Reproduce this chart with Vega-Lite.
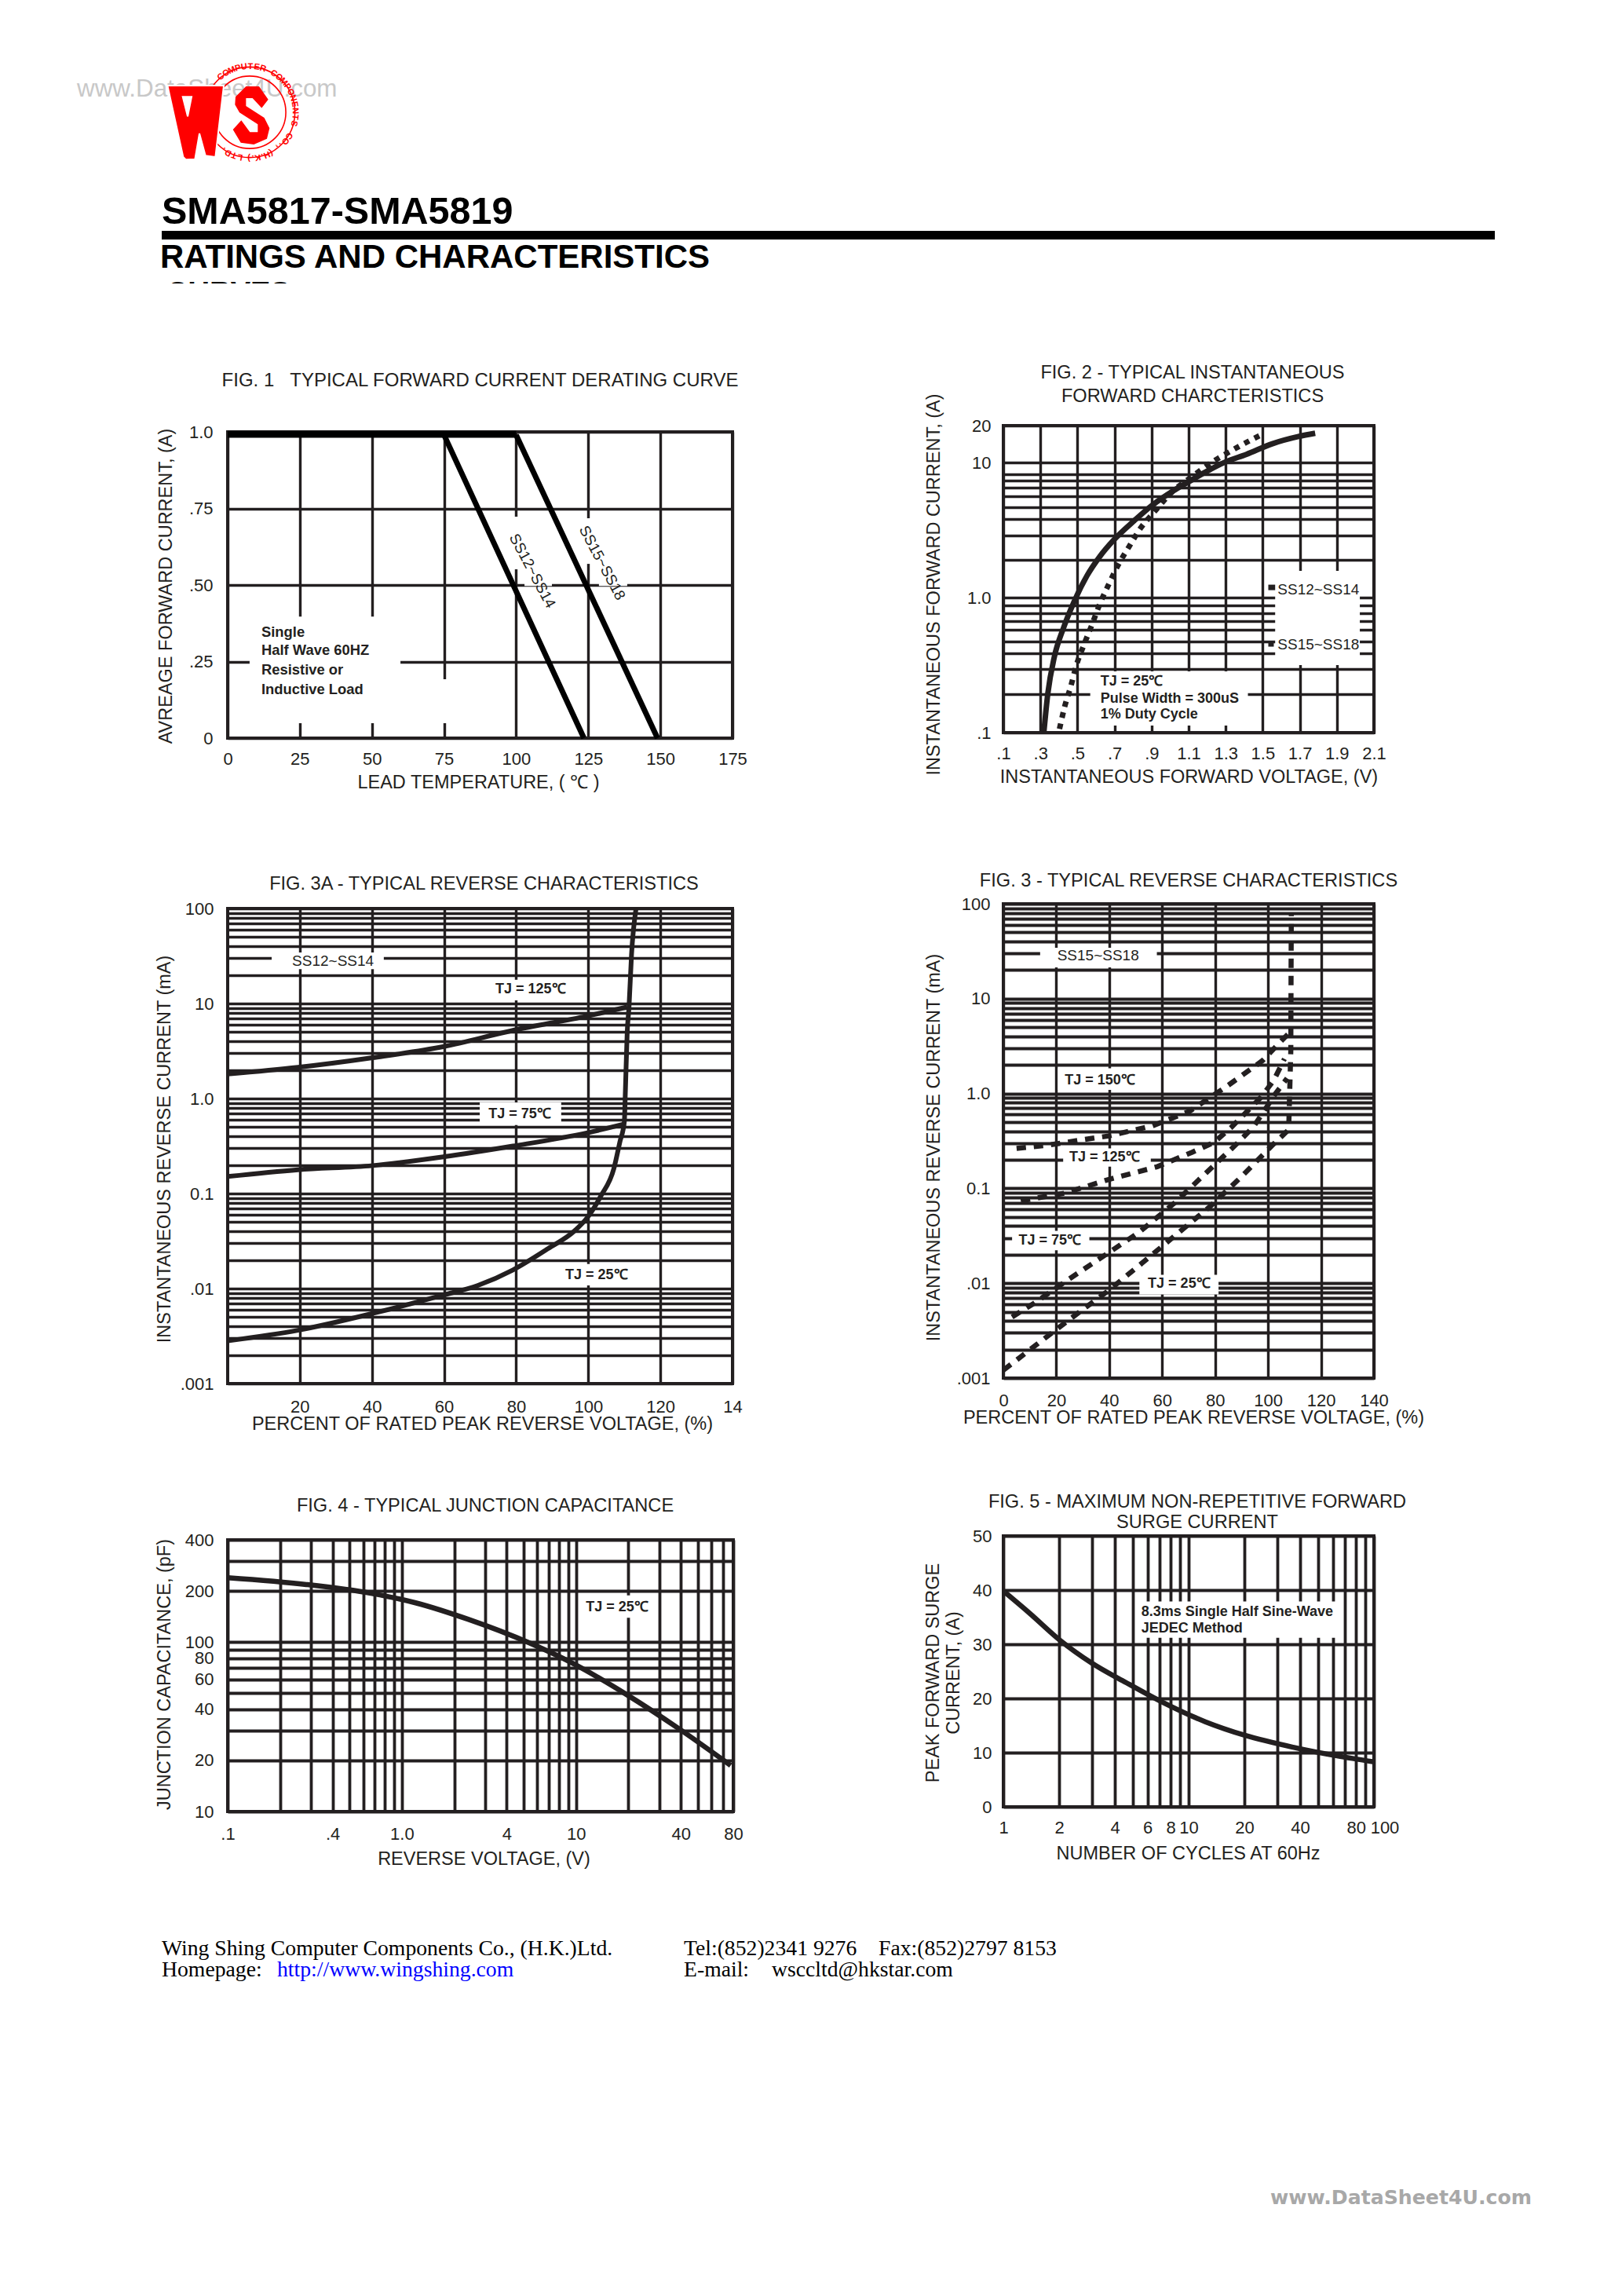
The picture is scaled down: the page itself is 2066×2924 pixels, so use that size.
{"$schema":"https://vega.github.io/schema/vega-lite/v6.json","padding":0,"background":"white","bounds":"flush","spacing":0,
"config":{"view":{"stroke":"#231f20","strokeWidth":4},"font":"Liberation Sans","axis":{"domain":false,"ticks":false,"grid":true,"gridColor":"#231f20","gridOpacity":1,"gridWidth":3.4,"labelFont":"Liberation Sans","labelFontSize":22,"labelColor":"#231f20","labelOverlap":false,"labelBound":false,"labelFlush":false,"titleFont":"Liberation Sans","titleFontSize":23.5,"titleFontWeight":"normal","titleColor":"#231f20","titleBaseline":"middle","titleLineHeight":26},"title":{"font":"Liberation Sans","fontSize":23.6,"fontWeight":"normal","color":"#231f20","anchor":"middle"}},
"vconcat":[
{"width":2066,"height":542,"view":{"stroke":null},
"encoding":{"x":{"field":"x","type":"quantitative","scale":{"domain":[0,2066],"nice":false},"axis":null},"y":{"field":"y","type":"quantitative","scale":{"domain":[542,0],"nice":false},"axis":null}},
"layer":[
{"data":{"values":[{"x":98,"y":123,"t":"www.DataSheet4U.com"}]},"mark":{"type":"text","font":"Liberation Sans","fontSize":31.4,"align":"left","baseline":"alphabetic","fill":"#c8c8c8"},"encoding":{"text":{"field":"t"}}},
{"data":{"values":[{"x":318,"y":143}]},"mark":{"type":"point","shape":"circle","size":13273,"filled":false,"stroke":"#ff0000","strokeWidth":1.6,"opacity":1}},
{"data":{"values":[{"x":318,"y":143}]},"mark":{"type":"point","shape":"circle","size":8495,"filled":false,"stroke":"#ff0000","strokeWidth":1.6,"opacity":1}},
{"data":{"values":[{"x":281.5,"y":97.9,"a":-39,"t":"C"},{"x":288.1,"y":93.3,"a":-31,"t":"O"},{"x":295.3,"y":89.6,"a":-23,"t":"M"},{"x":303,"y":87,"a":-15,"t":"P"},{"x":310.9,"y":85.4,"a":-7,"t":"U"},{"x":319,"y":85,"a":1,"t":"T"},{"x":327.1,"y":85.7,"a":9,"t":"E"},{"x":335,"y":87.5,"a":17,"t":"R"},{"x":348.7,"y":93.8,"a":32,"t":"C"},{"x":355.3,"y":98.6,"a":40,"t":"O"},{"x":361.1,"y":104.2,"a":48,"t":"M"},{"x":366.1,"y":110.6,"a":56,"t":"P"},{"x":370.1,"y":117.6,"a":64,"t":"O"},{"x":373.2,"y":125.1,"a":72,"t":"N"},{"x":375.1,"y":132.9,"a":80,"t":"E"},{"x":376,"y":141,"a":88,"t":"N"},{"x":375.7,"y":149.1,"a":96,"t":"T"},{"x":374.3,"y":157,"a":104,"t":"S"},{"x":367.7,"y":172.9,"a":121,"t":"C"},{"x":363.1,"y":179.5,"a":129,"t":"O"},{"x":358.3,"y":184.7,"a":136,"t":"."},{"x":354.5,"y":188.1,"a":141,"t":","},{"x":345.2,"y":194.2,"a":152,"t":"("},{"x":339.8,"y":196.8,"a":158,"t":"H"},{"x":334,"y":198.7,"a":164,"t":"."},{"x":328.1,"y":200.1,"a":170,"t":"K"},{"x":322.1,"y":200.9,"a":176,"t":"."},{"x":317,"y":201,"a":181,"t":")"},{"x":305.9,"y":199.7,"a":192,"t":"L"},{"x":298.2,"y":197.5,"a":200,"t":"T"},{"x":290.8,"y":194.2,"a":208,"t":"D"},{"x":284.7,"y":190.5,"a":215,"t":"."}]},"mark":{"type":"text","font":"Liberation Sans","fontWeight":"bold","fontSize":11,"align":"center","baseline":"middle","fill":"#ff0000"},"encoding":{"text":{"field":"t"},"angle":{"field":"a","type":"quantitative","scale":null}}},
{"data":{"values":[{"x":250.7,"y":156}]},"mark":{"type":"point","shape":"M-.772,-.972 L.71,-.972 L.49,.91 L.228,.876 L.069,.29 L-.048,.966 L-.29,.979 L-.359,.91 Z M-.372,-.676 L-.241,-.159 L-.138,-.676 Z","size":9344,"filled":true,"fill":"#ff0000","stroke":"white","strokeWidth":2,"opacity":1}},
{"data":{"values":[{"x":320,"y":147}]},"mark":{"type":"point","shape":"M-.541,-.64 L-.18,-1 L.27,-1 L.586,-.55 L.36,-.26 L.045,-.595 L-.18,-.595 L-.18,-.324 L.45,.081 L.63,.441 L.54,.802 L.09,1 L-.36,.937 L-.63,.486 L-.342,.171 L-.045,.577 L.225,.577 L.225,.306 L-.405,-.1 L-.559,-.369 Z","size":5476,"filled":true,"fill":"#ff0000","opacity":1}},
{"data":{"values":[{"x":206,"y":285,"t":"SMA5817-SMA5819"}]},"mark":{"type":"text","font":"Liberation Sans","fontWeight":"bold","fontSize":48.5,"align":"left","baseline":"alphabetic","fill":"#000000"},"encoding":{"text":{"field":"t"}}},
{"data":{"values":[{"x":206,"x2":1904,"y":294,"y2":305}]},"mark":{"type":"rect","fill":"#000000"},"encoding":{"x2":{"field":"x2"},"y2":{"field":"y2"}}},
{"data":{"values":[{"x":204,"y":341,"t":"RATINGS AND CHARACTERISTICS"}]},"mark":{"type":"text","font":"Liberation Sans","fontWeight":"bold","fontSize":42,"align":"left","baseline":"alphabetic","fill":"#000000"},"encoding":{"text":{"field":"t"}}},
{"data":{"values":[{"x":212,"y":386,"t":"CURVES"}]},"mark":{"type":"text","font":"Liberation Sans","fontWeight":"bold","fontSize":38,"align":"left","baseline":"alphabetic","fill":"#000000"},"encoding":{"text":{"field":"t"}}},
{"data":{"values":[{"x":200,"x2":420,"y":361,"y2":400}]},"mark":{"type":"rect","fill":"white"},"encoding":{"x2":{"field":"x2"},"y2":{"field":"y2"}}}
]},
{"hconcat":[
{"width":290,"height":10,"view":{"stroke":null},"data":{"values":[{}]},"mark":{"type":"point","opacity":0}},
{"vconcat":[
{"width":10,"height":8,"view":{"stroke":null},"data":{"values":[{}]},"mark":{"type":"point","opacity":0}},
{"width":643,"height":390,
"title":{"text":"FIG. 1\u00a0\u00a0\u00a0TYPICAL FORWARD CURRENT DERATING CURVE","offset":38,"fontSize":24},
"encoding":{"x":{"field":"x","type":"quantitative","scale":{"domain":[0,175],"nice":false},"axis":{"values":[0,25,50,75,100,125,150,175],"labelPadding":16,"title":"LEAD TEMPERATURE, ( ℃ )","titleX":319,"titleY":56}},"y":{"field":"y","type":"quantitative","scale":{"domain":[0,1],"nice":false},"axis":{"values":[0,0.25,0.5,0.75,1],"labelExpr":"{'0':'0','0.25':'.25','0.5':'.50','0.75':'.75','1':'1.0'}[datum.value]","labelPadding":19,"title":"AVREAGE FORWARD CURRENT, (A)","titleX":-79,"titleY":196}}},
"layer":[
{"data":{"values":[{"x":7.6,"x2":59.9,"y":0.397,"y2":0.049},{"x":59.9,"x2":76.8,"y":0.192,"y2":0.049},{"x":98,"x2":101.8,"y":0.723,"y2":0.551},{"x":102.9,"x2":112.4,"y":0.528,"y2":0.497},{"x":123,"x2":126.8,"y":0.718,"y2":0.569},{"x":128.7,"x2":138.5,"y":0.528,"y2":0.497}]},"mark":{"type":"rect","fill":"white"},"encoding":{"x2":{"field":"x2"},"y2":{"field":"y2"}}},
{"data":{"values":[{"x":0,"y":0.992,"s":"rating"},{"x":100,"y":0.992,"s":"rating"}]},"mark":{"type":"line","stroke":"#000000","strokeWidth":9},"encoding":{"detail":{"field":"s"}}},
{"data":{"values":[{"x":75,"y":0.99,"s":"SS12~SS14"},{"x":123.5,"y":0,"s":"SS12~SS14"},{"x":100,"y":0.99,"s":"SS15~SS18"},{"x":149,"y":0,"s":"SS15~SS18"}]},"mark":{"type":"line","stroke":"#000000","strokeWidth":7},"encoding":{"detail":{"field":"s"}}},
{"data":{"values":[{"x":105.6,"y":0.546,"t":"SS12~SS14"},{"x":129.8,"y":0.572,"t":"SS15~SS18"}]},"mark":{"type":"text","font":"Liberation Sans","fontSize":19,"angle":62,"align":"center","baseline":"middle","fill":"#231f20"},"encoding":{"text":{"field":"t"}}},
{"data":{"values":[{"x":11.7,"y":0.346,"t":"Single"},{"x":11.7,"y":0.287,"t":"Half Wave 60HZ"},{"x":11.7,"y":0.223,"t":"Resistive or"},{"x":11.7,"y":0.159,"t":"Inductive Load"}]},"mark":{"type":"text","fontSize":18.4,"fontWeight":"bold","align":"left","baseline":"middle","fill":"#231f20"},"encoding":{"text":{"field":"t"}}}
]},
{"width":10,"height":217,"view":{"stroke":null},"data":{"values":[{}]},"mark":{"type":"point","opacity":0}},
{"width":643,"height":605,
"title":{"text":"FIG. 3A - TYPICAL REVERSE CHARACTERISTICS","offset":8,"dx":5},
"encoding":{"x":{"field":"x","type":"quantitative","scale":{"domain":[0,140],"nice":false},"axis":{"values":[20,40,60,80,100,120,140],"labelExpr":"{'20':'20','40':'40','60':'60','80':'80','100':'100','120':'120','140':'14'}[datum.value]","labelPadding":19,"title":"PERCENT OF RATED PEAK REVERSE VOLTAGE, (%)","titleX":324,"titleY":51}},"y":{"field":"y","type":"quantitative","scale":{"type":"log","domain":[0.001,100],"nice":false},"axis":{"values":[0.001,0.002,0.003,0.004,0.005,0.006,0.007,0.008,0.009,0.01,0.02,0.03,0.04,0.05,0.06,0.07,0.08,0.09,0.1,0.2,0.3,0.4,0.5,0.6,0.7,0.8,0.9,1,2,3,4,5,6,7,8,9,10,20,30,40,50,60,70,80,90,100],"labelExpr":"{'100':'100','10':'10','1':'1.0','0.1':'0.1','0.01':'.01','0.001':'.001'}[datum.value]||''","labelPadding":18,"title":"INSTANTANEOUS REVERSE CURRENT (mA)","titleX":-81,"titleY":306}}},
"layer":[
{"data":{"values":[{"x":12.2,"x2":43.3,"y":34.4,"y2":23},{"x":70.6,"x2":96.2,"y":17.8,"y2":10.8},{"x":69.9,"x2":92.5,"y":0.91,"y2":0.526},{"x":92,"x2":111.5,"y":0.0181,"y2":0.0108}]},"mark":{"type":"rect","fill":"white"},"encoding":{"x2":{"field":"x2"},"y2":{"field":"y2"}}},
{"data":{"values":[{"x":0,"y":1.81,"s":"TJ = 125℃"},{"x":19.5,"y":2.13,"s":"TJ = 125℃"},{"x":40.2,"y":2.69,"s":"TJ = 125℃"},{"x":59.7,"y":3.51,"s":"TJ = 125℃"},{"x":79.1,"y":5.21,"s":"TJ = 125℃"},{"x":99.8,"y":7.4,"s":"TJ = 125℃"},{"x":110.8,"y":9.19,"s":"TJ = 125℃"},{"x":0,"y":0.151,"s":"TJ = 75℃"},{"x":19.5,"y":0.178,"s":"TJ = 75℃"},{"x":40.2,"y":0.197,"s":"TJ = 75℃"},{"x":59.7,"y":0.243,"s":"TJ = 75℃"},{"x":79.1,"y":0.316,"s":"TJ = 75℃"},{"x":99.8,"y":0.436,"s":"TJ = 75℃"},{"x":110.3,"y":0.542,"s":"TJ = 75℃"},{"x":0,"y":0.00282,"s":"TJ = 25℃"},{"x":19.5,"y":0.00364,"s":"TJ = 25℃"},{"x":40.2,"y":0.00547,"s":"TJ = 25℃"},{"x":59.7,"y":0.00851,"s":"TJ = 25℃"},{"x":69.4,"y":0.0108,"s":"TJ = 25℃"},{"x":79.1,"y":0.0157,"s":"TJ = 25℃"},{"x":88.9,"y":0.0264,"s":"TJ = 25℃"},{"x":96.2,"y":0.0405,"s":"TJ = 25℃"},{"x":99.8,"y":0.0562,"s":"TJ = 25℃"},{"x":103.5,"y":0.0944,"s":"TJ = 25℃"},{"x":107.1,"y":0.183,"s":"TJ = 25℃"},{"x":108.8,"y":0.354,"s":"TJ = 25℃"},{"x":110,"y":0.568,"s":"TJ = 25℃"},{"x":110.3,"y":1.21,"s":"TJ = 25℃"},{"x":110.8,"y":4.98,"s":"TJ = 25℃"},{"x":111.3,"y":9.19,"s":"TJ = 25℃"},{"x":112,"y":32.8,"s":"TJ = 25℃"},{"x":113.2,"y":97,"s":"TJ = 25℃"}]},"mark":{"type":"line","stroke":"#231f20","strokeWidth":6,"interpolate":"monotone"},"encoding":{"detail":{"field":"s"}}},
{"data":{"values":[{"x":29.2,"y":27.7,"t":"SS12~SS14"}]},"mark":{"type":"text","font":"Liberation Sans","fontSize":19,"align":"center","baseline":"middle","fill":"#231f20"},"encoding":{"text":{"field":"t"}}},
{"data":{"values":[{"x":84,"y":14,"t":"TJ = 125℃"},{"x":81,"y":0.686,"t":"TJ = 75℃"},{"x":102.3,"y":0.0139,"t":"TJ = 25℃"}]},"mark":{"type":"text","fontSize":18,"fontWeight":"bold","align":"center","baseline":"middle","fill":"#231f20"},"encoding":{"text":{"field":"t"}}}
]},
{"width":10,"height":199,"view":{"stroke":null},"data":{"values":[{}]},"mark":{"type":"point","opacity":0}},
{"width":644,"height":346,
"title":{"text":"FIG. 4 - TYPICAL JUNCTION CAPACITANCE","offset":20,"dx":6},
"encoding":{"x":{"field":"x","type":"quantitative","scale":{"type":"log","domain":[0.1,80],"nice":false},"axis":{"values":[0.1,0.2,0.3,0.4,0.5,0.6,0.7,0.8,0.9,1,2,3,4,5,6,7,8,9,10,20,30,40,50,60,70,80],"labelExpr":"{'0.1':'.1','0.4':'.4','1':'1.0','4':'4','10':'10','40':'40','80':'80'}[datum.value]||''","labelPadding":18,"gridWidth":3.8,"title":"REVERSE VOLTAGE, (V)","titleX":326,"titleY":60}},"y":{"field":"y","type":"quantitative","scale":{"type":"log","domain":[10,400],"nice":false},"axis":{"values":[10,20,30,40,50,60,70,80,90,100,200,300,400],"labelExpr":"{'10':'10','20':'20','40':'40','60':'60','80':'80','100':'100','200':'200','400':'400'}[datum.value]||''","labelPadding":18,"gridWidth":3.8,"title":"JUNCTION CAPACITANCE, (pF)","titleX":-81,"titleY":171}}},
"layer":[
{"data":{"values":[{"x":11.2,"x2":27.3,"y":188,"y2":139}]},"mark":{"type":"rect","fill":"white"},"encoding":{"x2":{"field":"x2"},"y2":{"field":"y2"}}},
{"data":{"values":[{"x":0.1,"y":239,"s":"TJ = 25℃"},{"x":0.283,"y":218,"s":"TJ = 25℃"},{"x":0.675,"y":193,"s":"TJ = 25℃"},{"x":1.2,"y":170,"s":"TJ = 25℃"},{"x":2.4,"y":136,"s":"TJ = 25℃"},{"x":5.4,"y":98.6,"s":"TJ = 25℃"},{"x":9.6,"y":74.7,"s":"TJ = 25℃"},{"x":19.3,"y":49.3,"s":"TJ = 25℃"},{"x":38.6,"y":31,"s":"TJ = 25℃"},{"x":77.3,"y":18.7,"s":"TJ = 25℃"}]},"mark":{"type":"line","stroke":"#231f20","strokeWidth":6.5,"interpolate":"monotone"},"encoding":{"detail":{"field":"s"}}},
{"data":{"values":[{"x":17.2,"y":160,"t":"TJ = 25℃"}]},"mark":{"type":"text","fontSize":18,"fontWeight":"bold","align":"center","baseline":"middle","fill":"#231f20"},"encoding":{"text":{"field":"t"}}}
]}
],"spacing":0,"bounds":"flush"},
{"width":988,"height":10,"view":{"stroke":null},"data":{"values":[{}]},"mark":{"type":"point","opacity":0}},
{"vconcat":[
{"width":472,"height":391,
"title":{"text":["FIG. 2 - TYPICAL INSTANTANEOUS","FORWARD CHARCTERISTICS"],"offset":-16,"dx":5,"lineHeight":30},
"encoding":{"x":{"field":"x","type":"quantitative","scale":{"domain":[0.1,2.1],"nice":false},"axis":{"values":[0.1,0.3,0.5,0.7,0.9,1.1,1.3,1.5,1.7,1.9,2.1],"labelExpr":"{'0.1':'.1','0.3':'.3','0.5':'.5','0.7':'.7','0.9':'.9','1.1':'1.1','1.3':'1.3','1.5':'1.5','1.7':'1.7','1.9':'1.9','2.1':'2.1'}[datum.value]","labelPadding":16,"title":"INSTANTANEOUS FORWARD VOLTAGE, (V)","titleX":236,"titleY":56}},"y":{"field":"y","type":"quantitative","scale":{"type":"log","domain":[0.1,18.8],"nice":false},"axis":{"values":[0.1,0.194,0.295,0.388,0.475,0.58,0.669,0.765,0.874,1,1.9,2.9,3.8,4.7,5.6,6.5,7.4,8.2,10,18.8],"labelExpr":"{'18.8':'20','10':'10','1':'1.0','0.1':'.1'}[datum.value]||''","labelPadding":16,"title":"INSTANTANEOUS FORWARD CURRENT, (A)","titleX":-89,"titleY":202}}},
"layer":[
{"data":{"values":[{"x":0.569,"x2":1.42,"y":0.284,"y2":0.1128},{"x":1.567,"x2":2.024,"y":1.577,"y2":0.316}]},"mark":{"type":"rect","fill":"white"},"encoding":{"x2":{"field":"x2"},"y2":{"field":"y2"}}},
{"data":{"values":[{"x":0.319,"y":0.1018,"s":"SS12~SS14"},{"x":0.34,"y":0.1946,"s":"SS12~SS14"},{"x":0.375,"y":0.363,"s":"SS12~SS14"},{"x":0.424,"y":0.593,"s":"SS12~SS14"},{"x":0.481,"y":0.927,"s":"SS12~SS14"},{"x":0.551,"y":1.449,"s":"SS12~SS14"},{"x":0.621,"y":2.02,"s":"SS12~SS14"},{"x":0.699,"y":2.7,"s":"SS12~SS14"},{"x":0.805,"y":3.7,"s":"SS12~SS14"},{"x":0.903,"y":4.83,"s":"SS12~SS14"},{"x":1.016,"y":6.17,"s":"SS12~SS14"},{"x":1.101,"y":7.22,"s":"SS12~SS14"},{"x":1.199,"y":8.63,"s":"SS12~SS14"},{"x":1.298,"y":10.1,"s":"SS12~SS14"},{"x":1.411,"y":11.5,"s":"SS12~SS14"},{"x":1.552,"y":13.8,"s":"SS12~SS14"},{"x":1.693,"y":15.6,"s":"SS12~SS14"},{"x":1.783,"y":16.5,"s":"SS12~SS14"},{"x":1.53,"y":1.19,"s":"key SS12~SS14"},{"x":1.567,"y":1.19,"s":"key SS12~SS14"}]},"mark":{"type":"line","stroke":"#231f20","strokeWidth":7,"interpolate":"monotone"},"encoding":{"detail":{"field":"s"}}},
{"data":{"values":[{"x":0.403,"y":0.1065,"s":"SS15~SS18"},{"x":0.431,"y":0.1556,"s":"SS15~SS18"},{"x":0.464,"y":0.22,"s":"SS15~SS18"},{"x":0.495,"y":0.318,"s":"SS15~SS18"},{"x":0.534,"y":0.444,"s":"SS15~SS18"},{"x":0.579,"y":0.634,"s":"SS15~SS18"},{"x":0.619,"y":0.887,"s":"SS15~SS18"},{"x":0.667,"y":1.239,"s":"SS15~SS18"},{"x":0.72,"y":1.747,"s":"SS15~SS18"},{"x":0.779,"y":2.39,"s":"SS15~SS18"},{"x":0.84,"y":3.26,"s":"SS15~SS18"},{"x":0.915,"y":4.32,"s":"SS15~SS18"},{"x":1.002,"y":5.91,"s":"SS15~SS18"},{"x":1.129,"y":8.07,"s":"SS15~SS18"},{"x":1.228,"y":10.1,"s":"SS15~SS18"},{"x":1.333,"y":12.3,"s":"SS15~SS18"},{"x":1.432,"y":14.6,"s":"SS15~SS18"},{"x":1.481,"y":15.8,"s":"SS15~SS18"},{"x":1.53,"y":0.454,"s":"key SS15~SS18"},{"x":1.567,"y":0.454,"s":"key SS15~SS18"}]},"mark":{"type":"line","stroke":"#231f20","strokeWidth":7,"strokeDash":[7,7.5],"interpolate":"monotone"},"encoding":{"detail":{"field":"s"}}},
{"data":{"values":[{"x":1.58,"y":1.143,"t":"SS12~SS14"},{"x":1.58,"y":0.448,"t":"SS15~SS18"}]},"mark":{"type":"text","font":"Liberation Sans","fontSize":19,"align":"left","baseline":"middle","fill":"#231f20"},"encoding":{"text":{"field":"t"}}},
{"data":{"values":[{"x":0.624,"y":0.239,"t":"TJ = 25℃"},{"x":0.624,"y":0.178,"t":"Pulse Width = 300uS"},{"x":0.624,"y":0.136,"t":"1% Duty Cycle"}]},"mark":{"type":"text","fontSize":18,"fontWeight":"bold","align":"left","baseline":"middle","fill":"#231f20"},"encoding":{"text":{"field":"t"}}}
]},
{"width":10,"height":218,"view":{"stroke":null},"data":{"values":[{}]},"mark":{"type":"point","opacity":0}},
{"width":472,"height":604,
"title":{"text":"FIG. 3 - TYPICAL REVERSE CHARACTERISTICS","offset":6},
"encoding":{"x":{"field":"x","type":"quantitative","scale":{"domain":[0,140],"nice":false},"axis":{"values":[0,20,40,60,80,100,120,140],"labelPadding":18,"title":"PERCENT OF RATED PEAK REVERSE VOLTAGE, (%)","titleX":242,"titleY":50}},"y":{"field":"y","type":"quantitative","scale":{"type":"log","domain":[0.001,100],"nice":false},"axis":{"values":[0.001,0.002,0.003,0.004,0.005,0.006,0.007,0.008,0.009,0.01,0.02,0.03,0.04,0.05,0.06,0.07,0.08,0.09,0.1,0.2,0.3,0.4,0.5,0.6,0.7,0.8,0.9,1,2,3,4,5,6,7,8,9,10,20,30,40,50,60,70,80,90,100],"labelExpr":"{'100':'100','10':'10','1':'1.0','0.1':'0.1','0.01':'.01','0.001':'.001'}[datum.value]||''","labelPadding":17,"gridWidth":4,"title":"INSTANTANEOUS REVERSE CURRENT (mA)","titleX":-89,"titleY":310}}},
"layer":[
{"data":{"values":[{"x":13.9,"x2":58,"y":34.4,"y2":21.4},{"x":20.6,"x2":51.4,"y":1.84,"y2":1.09},{"x":22.6,"x2":55.7,"y":0.264,"y2":0.169},{"x":3.3,"x2":32.5,"y":0.0356,"y2":0.0222},{"x":51.4,"x2":81.3,"y":0.01225,"y2":0.00762}]},"mark":{"type":"rect","fill":"white"},"encoding":{"x2":{"field":"x2"},"y2":{"field":"y2"}}},
{"data":{"values":[{"x":5,"y":0.264,"s":"TJ = 150℃"},{"x":16.6,"y":0.285,"s":"TJ = 150℃"},{"x":29.9,"y":0.325,"s":"TJ = 150℃"},{"x":39.8,"y":0.357,"s":"TJ = 150℃"},{"x":56.4,"y":0.457,"s":"TJ = 150℃"},{"x":70.3,"y":0.648,"s":"TJ = 150℃"},{"x":84.6,"y":1.2,"s":"TJ = 150℃"},{"x":97.9,"y":2.22,"s":"TJ = 150℃"},{"x":104.5,"y":3.46,"s":"TJ = 150℃"},{"x":108.5,"y":4.5,"s":"TJ = 150℃"},{"x":6.6,"y":0.0738,"s":"TJ = 125℃"},{"x":23.2,"y":0.0891,"s":"TJ = 125℃"},{"x":39.8,"y":0.124,"s":"TJ = 125℃"},{"x":58.1,"y":0.169,"s":"TJ = 125℃"},{"x":71.3,"y":0.24,"s":"TJ = 125℃"},{"x":79.6,"y":0.305,"s":"TJ = 125℃"},{"x":86.3,"y":0.445,"s":"TJ = 125℃"},{"x":97.2,"y":0.904,"s":"TJ = 125℃"},{"x":102.2,"y":1.38,"s":"TJ = 125℃"},{"x":106.2,"y":2.32,"s":"TJ = 125℃"},{"x":3.3,"y":0.00441,"s":"TJ = 75℃"},{"x":11.6,"y":0.00614,"s":"TJ = 75℃"},{"x":24.9,"y":0.0111,"s":"TJ = 75℃"},{"x":38.2,"y":0.0196,"s":"TJ = 75℃"},{"x":51.4,"y":0.0346,"s":"TJ = 75℃"},{"x":64.7,"y":0.0703,"s":"TJ = 75℃"},{"x":76.3,"y":0.143,"s":"TJ = 75℃"},{"x":87.9,"y":0.29,"s":"TJ = 75℃"},{"x":94.5,"y":0.445,"s":"TJ = 75℃"},{"x":102.8,"y":0.993,"s":"TJ = 75℃"},{"x":107.2,"y":1.45,"s":"TJ = 75℃"},{"x":0,"y":0.00121,"s":"TJ = 25℃"},{"x":13.3,"y":0.00234,"s":"TJ = 25℃"},{"x":26.5,"y":0.00446,"s":"TJ = 25℃"},{"x":39.8,"y":0.0084,"s":"TJ = 25℃"},{"x":52.4,"y":0.0163,"s":"TJ = 25℃"},{"x":64.7,"y":0.0315,"s":"TJ = 25℃"},{"x":78,"y":0.064,"s":"TJ = 25℃"},{"x":89.6,"y":0.13,"s":"TJ = 25℃"},{"x":101.2,"y":0.277,"s":"TJ = 25℃"},{"x":107.8,"y":0.416,"s":"TJ = 25℃"},{"x":108.6,"y":2.81,"s":"TJ = 25℃"},{"x":108.7,"y":18.6,"s":"TJ = 25℃"},{"x":108.8,"y":80.5,"s":"TJ = 25℃"}]},"mark":{"type":"line","stroke":"#231f20","strokeWidth":6.5,"strokeDash":[12,10]},"encoding":{"detail":{"field":"s"}}},
{"data":{"values":[{"x":35.8,"y":28.4,"t":"SS15~SS18"}]},"mark":{"type":"text","font":"Liberation Sans","fontSize":19,"align":"center","baseline":"middle","fill":"#231f20"},"encoding":{"text":{"field":"t"}}},
{"data":{"values":[{"x":36.5,"y":1.38,"t":"TJ = 150℃"},{"x":38.2,"y":0.213,"t":"TJ = 125℃"},{"x":17.6,"y":0.0279,"t":"TJ = 75℃"},{"x":66.4,"y":0.00984,"t":"TJ = 25℃"}]},"mark":{"type":"text","fontSize":18,"fontWeight":"bold","align":"center","baseline":"middle","fill":"#231f20"},"encoding":{"text":{"field":"t"}}}
]},
{"width":10,"height":201,"view":{"stroke":null},"data":{"values":[{}]},"mark":{"type":"point","opacity":0}},
{"width":472,"height":345,
"title":{"text":["FIG. 5 - MAXIMUM NON-REPETITIVE FORWARD","SURGE CURRENT"],"offset":-6,"dx":11,"lineHeight":26},
"encoding":{"x":{"field":"x","type":"quantitative","scale":{"type":"log","domain":[1,100],"nice":false},"axis":{"values":[1,2,3,4,5,6,7,8,9,10,20,30,40,50,60,70,80,90,100],"labelExpr":"{'1':'1','2':'2','4':'4','6':'6','8':'8','10':'10','20':'20','40':'40','80':'80'}[datum.value]||''","labelPadding":16,"gridWidth":3.8,"title":"NUMBER OF CYCLES AT 60Hz","titleX":235,"titleY":59}},"y":{"field":"y","type":"quantitative","scale":{"domain":[0,50],"nice":false},"axis":{"values":[0,10,20,30,40,50],"labelPadding":15,"gridWidth":3.8,"title":["PEAK FORWARD SURGE","CURRENT, (A)"],"titleX":-90,"titleY":174}}},
"layer":[
{"data":{"values":[{"x":5.43,"x2":66.8,"y":37.9,"y2":31.2}]},"mark":{"type":"rect","fill":"white"},"encoding":{"x2":{"field":"x2"},"y2":{"field":"y2"}}},
{"data":{"values":[{"x":1.02,"y":39.6,"s":"surge"},{"x":1.39,"y":35.7,"s":"surge"},{"x":2.03,"y":30.7,"s":"surge"},{"x":2.98,"y":26.6,"s":"surge"},{"x":4.61,"y":22.9,"s":"surge"},{"x":7.13,"y":19.4,"s":"surge"},{"x":12.3,"y":15.7,"s":"surge"},{"x":20.1,"y":13.2,"s":"surge"},{"x":36.6,"y":11,"s":"surge"},{"x":63.2,"y":9.4,"s":"surge"},{"x":100,"y":8.3,"s":"surge"}]},"mark":{"type":"line","stroke":"#231f20","strokeWidth":6.5,"interpolate":"monotone"},"encoding":{"detail":{"field":"s"}}},
{"data":{"values":[{"x":5.55,"y":36,"t":"8.3ms Single Half Sine-Wave"},{"x":5.55,"y":32.9,"t":"JEDEC Method"}]},"mark":{"type":"text","fontSize":18,"fontWeight":"bold","align":"left","baseline":"middle","fill":"#231f20"},"encoding":{"text":{"field":"t"}}},
{"data":{"values":[{"x":100,"y":0,"t":"100"}]},"mark":{"type":"text","fontSize":22,"dx":14,"dy":27,"align":"center","baseline":"middle","fill":"#231f20"},"encoding":{"text":{"field":"t"}}}
]}
],"spacing":0,"bounds":"flush"}
],"spacing":0,"bounds":"flush"},
{"width":10,"height":1765,"view":{"stroke":null},"data":{"values":[{}]},"mark":{"type":"point","opacity":0}},
{"width":2066,"height":617,"view":{"stroke":null},
"encoding":{"x":{"field":"x","type":"quantitative","scale":{"domain":[0,2066],"nice":false},"axis":null},"y":{"field":"y","type":"quantitative","scale":{"domain":[2924,2307],"nice":false},"axis":null}},
"layer":[
{"data":{"values":[{"x":206,"y":2490,"t":"Wing Shing Computer Components Co., (H.K.)Ltd."},{"x":206,"y":2517,"t":"Homepage:"},{"x":871,"y":2490,"t":"Tel:(852)2341 9276"},{"x":1119,"y":2490,"t":"Fax:(852)2797 8153"},{"x":871,"y":2517,"t":"E-mail:"},{"x":983,"y":2517,"t":"wsccltd@hkstar.com"}]},"mark":{"type":"text","font":"Liberation Serif","fontSize":27.7,"align":"left","baseline":"alphabetic","fill":"#000000"},"encoding":{"text":{"field":"t"}}},
{"data":{"values":[{"x":353,"y":2517,"t":"http://www.wingshing.com"}]},"mark":{"type":"text","font":"Liberation Serif","fontSize":27.7,"align":"left","baseline":"alphabetic","fill":"#0000ff"},"encoding":{"text":{"field":"t"}}},
{"data":{"values":[{"x":1618,"y":2807,"t":"www.DataSheet4U.com"}]},"mark":{"type":"text","font":"DejaVu Sans","fontWeight":"bold","fontSize":25.2,"align":"left","baseline":"alphabetic","fill":"#a8a8a8"},"encoding":{"text":{"field":"t"}}}
]}
]}
